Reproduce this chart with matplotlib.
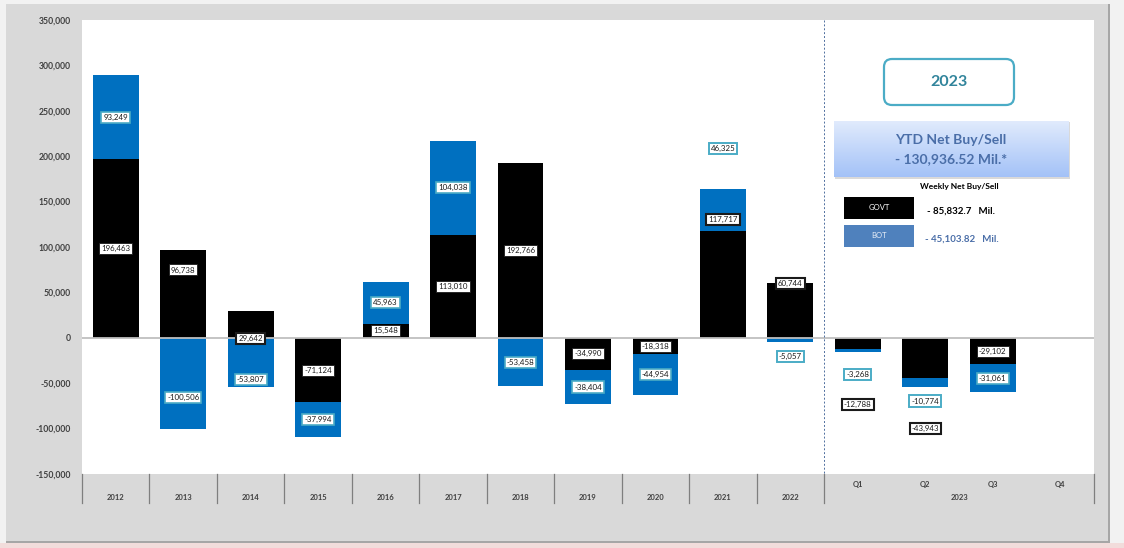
import numpy as np
import matplotlib
matplotlib.use("Agg")
import matplotlib.pyplot as plt
from matplotlib.patches import Rectangle, FancyBboxPatch
import matplotlib.transforms as mtransforms

plt.rcParams['font.family'] = ['Lato', 'DejaVu Sans']

# ---------------- data ----------------
years = ['2012', '2013', '2014', '2015', '2016', '2017', '2018', '2019', '2020', '2021', '2022']
quarters = ['Q1', 'Q2', 'Q3', 'Q4']
categories = years + quarters
govt = [196463, 96738, 29642, -71124, 15548, 113010, 192766, -34990, -18318, 117717, 60744,
        -12788, -43943, -29102, np.nan]
bot = [93249, -100506, -53807, -37994, 45963, 104038, -53458, -38404, -44954, 46325, -5057,
       -3268, -10774, -31061, np.nan]
y_ticks = [-150000, -100000, -50000, 0, 50000, 100000, 150000, 200000, 250000, 300000, 350000]
group_label = '2023'
ytd_title = 'YTD Net Buy/Sell'
ytd_value = '- 130,936.52 Mil.*'
weekly_title = 'Weekly Net Buy/Sell'
weekly_govt = '- 85,832.7   Mil.'
weekly_bot = '- 45,103.82   Mil.'

# manually placed data labels (index -> y in data units); others centred in segment
govt_label_override = {1: 74700, 2: -1000, 9: 130000, 10: 59600, 11: -73200, 12: -99700}
bot_label_override = {1: -66000, 2: -45700, 9: 208000, 10: -21100, 11: -40200, 12: -69600}
thick_govt = {2, 9, 10, 11, 12}
thick_bot = {9, 10, 11, 12}

W, H = 1124, 548
fig = plt.figure(figsize=(W / 100, H / 100), dpi=100, facecolor='#f2f2f2')

# background frame
bg = fig.add_axes([0, 0, 1, 1], zorder=0)
bg.set_xlim(0, W); bg.set_ylim(H, 0); bg.axis('off')
bg.add_patch(Rectangle((6, 4), 1103, 539, fc='#d9d9d9', ec='none'))
bg.add_patch(Rectangle((1108, 4), 2, 539, fc='#a6a6a6', ec='none'))
bg.add_patch(Rectangle((6, 541), 1104, 2, fc='#a6a6a6', ec='none'))
bg.add_patch(Rectangle((0, 543), W, 5, fc='#f2dcdb', ec='none'))

# main axes
L, R, T, B = 82, 1094, 20, 474
ax = fig.add_axes([L / W, 1 - B / H, (R - L) / W, (B - T) / H], zorder=1)
ax.set_facecolor('white')
n = len(categories)
x = np.arange(n)
ax.set_xlim(-0.5, n - 0.5)
ax.set_ylim(-150000, 350000)
for s in ax.spines.values():
    s.set_visible(False)
ax.set_xticks([])
ax.set_yticks(y_ticks)
ax.set_yticklabels([f'{t:,}' for t in y_ticks])
ax.tick_params(axis='y', length=0, pad=8, labelsize=6.2, labelcolor='#404040')
for lbl in ax.get_yticklabels():
    lbl.set_fontweight('bold')

ax.axhline(0, color='#bfbfbf', lw=1.3, zorder=3)

g = np.array(govt, dtype=float)
b = np.array(bot, dtype=float)
width = 0.68
pos_base = np.zeros(n)
neg_base = np.zeros(n)
segs = {}
for name, vals, col in [('govt', g, 'black'), ('bot', b, '#0070c0')]:
    v = np.nan_to_num(vals)
    bottom = np.where(v >= 0, pos_base, neg_base)
    ax.bar(x, v, width, bottom=bottom, color=col, edgecolor='none', zorder=2)
    segs[name] = (bottom, v)
    pos_base = pos_base + np.where(v > 0, v, 0)
    neg_base = neg_base + np.where(v < 0, v, 0)

def add_labels(name, vals, override, thick, ec, lw_thin, lw_thick):
    bottom, v = segs[name]
    for i in range(n):
        if np.isnan(vals[i]):
            continue
        yy = override.get(i, bottom[i] + v[i] / 2)
        lw = lw_thick if i in thick else lw_thin
        ax.text(x[i], yy, f'{vals[i]:,.0f}', ha='center', va='center', fontsize=5.7,
                color='#1a1a1a', zorder=5,
                bbox=dict(boxstyle='square,pad=0.25', fc='white', ec=ec, lw=lw))

add_labels('govt', g, govt_label_override, thick_govt, '#1a1a1a', 0.6, 1.5)
add_labels('bot', b, bot_label_override, thick_bot, '#4bacc6', 1.2, 1.4)

# category axis band
trans = mtransforms.blended_transform_factory(ax.transData, ax.transAxes)
band_bottom = -(503 - B) / (B - T)
divs = [i - 0.5 for i in range(len(years) + 1)] + [n - 0.5]
for d in divs:
    ax.plot([d, d], [0, band_bottom], transform=trans, color='#7f7f7f', lw=0.9,
            clip_on=False, zorder=4)
ax.plot([len(years) - 0.5] * 2, [1, 0], transform=trans, color='#4f6f9f', lw=0.7,
        ls=(0, (2, 2)), clip_on=False, zorder=4)
yr_y = -(498 - B) / (B - T)
q_y = -(484 - B) / (B - T)
for i, c in enumerate(years):
    ax.text(i, yr_y, c, transform=trans, ha='center', va='center', fontsize=5.5,
            fontweight='bold', color='#404040')
for j, q in enumerate(quarters):
    ax.text(len(years) + j, q_y, q, transform=trans, ha='center', va='center', fontsize=5.5,
            fontweight='bold', color='#404040')
ax.text(len(years) + (len(quarters) - 1) / 2, yr_y, group_label, transform=trans, ha='center',
        va='center', fontsize=5.5, fontweight='bold', color='#404040')

# right-side panel overlay (pixel coordinates)
ov = fig.add_axes([0, 0, 1, 1], zorder=6)
ov.set_xlim(0, W); ov.set_ylim(H, 0); ov.axis('off')
ov.patch.set_visible(False)
ov.add_patch(FancyBboxPatch((884, 59), 130, 46, boxstyle='round,pad=0,rounding_size=8',
                            fc='white', ec='#4bacc6', lw=1.6))
ov.text(949, 82, group_label, ha='center', va='center', fontsize=11.5, fontweight='bold',
        color='#31849b')
ov.add_patch(Rectangle((835, 122), 235, 56.5, fc='#d0d0d0', ec='none', alpha=0.8))
grad = np.linspace(0, 1, 64).reshape(-1, 1)
c_top = np.array([0.88, 0.92, 0.99])
c_bot = np.array([0.64, 0.76, 0.97])
img = c_top[None, None, :] * (1 - grad[:, :, None]) + c_bot[None, None, :] * grad[:, :, None]
ov.imshow(img, extent=[834, 1069, 177, 121], aspect='auto', zorder=2)
ov.set_xlim(0, W); ov.set_ylim(H, 0)
ov.text(951, 140, ytd_title, ha='center', va='center', fontsize=10, fontweight='bold',
        color='#4a6ea8', zorder=3)
ov.text(951, 159, ytd_value, ha='center', va='center', fontsize=10, fontweight='bold',
        color='#4a6ea8', zorder=3)
ov.text(959, 187, weekly_title, ha='center', va='center', fontsize=6, fontweight='bold',
        color='black')
ov.add_patch(Rectangle((844, 197), 70, 22, fc='black', ec='none'))
ov.text(879, 208, 'GOVT', ha='center', va='center', fontsize=5.5, color='white')
ov.text(927, 211, weekly_govt, ha='left', va='center', fontsize=7, fontweight='bold',
        color='black')
ov.add_patch(Rectangle((844, 225), 70, 22, fc='#4f81bd', ec='none'))
ov.text(879, 236, 'BOT', ha='center', va='center', fontsize=5.5, color='#e6edf7')
ov.text(925, 239, weekly_bot, ha='left', va='center', fontsize=7, fontweight='bold',
        color='#4a6ea8')

fig.savefig('out.png', dpi=100, facecolor=fig.get_facecolor())
